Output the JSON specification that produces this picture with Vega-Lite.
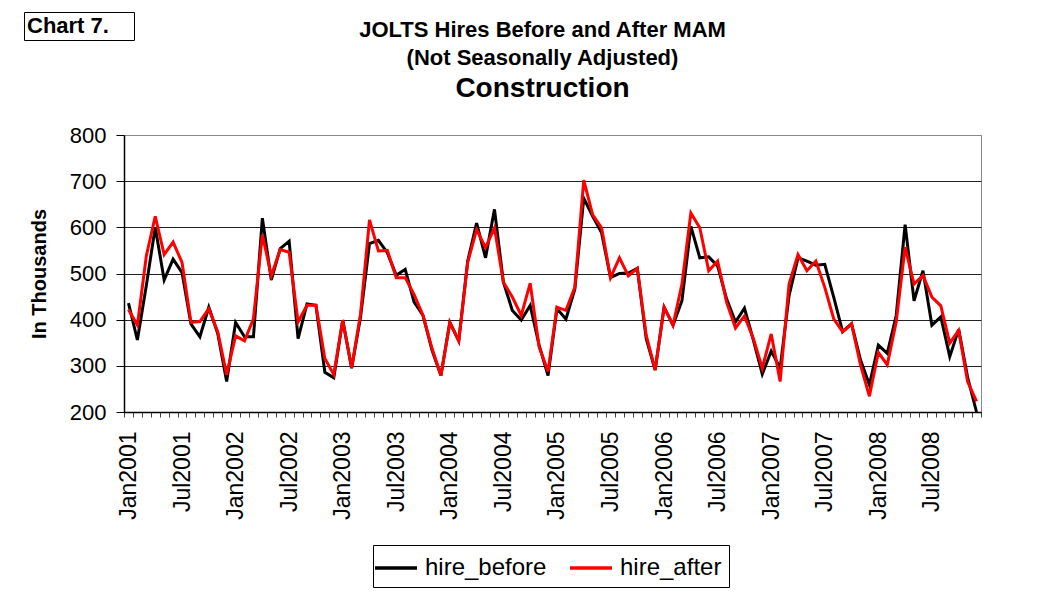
{
  "$schema": "https://vega.github.io/schema/vega-lite/v6.json",
  "width": 857,
  "height": 277,
  "autosize": {"type": "none"},
  "padding": {"left": 124, "top": 135, "right": 60, "bottom": 184},
  "background": "white",
  "config": {"font": "Liberation Sans", "view": {"stroke": "#888888", "strokeWidth": 1}},
  "title": {
    "text": ["JOLTS Hires Before and After MAM", "(Not Seasonally Adjusted)"],
    "subtitle": "Construction",
    "font": "Liberation Sans",
    "subtitleFont": "Liberation Sans",
    "fontSize": 22,
    "fontWeight": "bold",
    "lineHeight": 28,
    "color": "black",
    "subtitleFontSize": 28,
    "subtitleFontWeight": "bold",
    "subtitleColor": "black",
    "subtitlePadding": 5,
    "anchor": "middle",
    "offset": -92,
    "dx": -10
  },
  "datasets": {
    "hires": [
      {"month": "Jan2001", "before": 436, "after": 422},
      {"month": "Feb2001", "before": 356, "after": 388},
      {"month": "Mar2001", "before": 474, "after": 538},
      {"month": "Apr2001", "before": 600, "after": 624},
      {"month": "May2001", "before": 486, "after": 541},
      {"month": "Jun2001", "before": 531, "after": 568},
      {"month": "Jul2001", "before": 502, "after": 524},
      {"month": "Aug2001", "before": 391, "after": 394},
      {"month": "Sep2001", "before": 363, "after": 396},
      {"month": "Oct2001", "before": 427, "after": 424},
      {"month": "Nov2001", "before": 370, "after": 374},
      {"month": "Dec2001", "before": 266, "after": 281},
      {"month": "Jan2002", "before": 394, "after": 365},
      {"month": "Feb2002", "before": 363, "after": 354},
      {"month": "Mar2002", "before": 363, "after": 402},
      {"month": "Apr2002", "before": 620, "after": 584},
      {"month": "May2002", "before": 486, "after": 495},
      {"month": "Jun2002", "before": 554, "after": 552},
      {"month": "Jul2002", "before": 570, "after": 546},
      {"month": "Aug2002", "before": 359, "after": 395},
      {"month": "Sep2002", "before": 434, "after": 431},
      {"month": "Oct2002", "before": 431, "after": 431},
      {"month": "Nov2002", "before": 286, "after": 316},
      {"month": "Dec2002", "before": 274, "after": 281},
      {"month": "Jan2003", "before": 399, "after": 399},
      {"month": "Feb2003", "before": 295, "after": 296},
      {"month": "Mar2003", "before": 406, "after": 413},
      {"month": "Apr2003", "before": 565, "after": 616},
      {"month": "May2003", "before": 572, "after": 549},
      {"month": "Jun2003", "before": 545, "after": 550},
      {"month": "Jul2003", "before": 496, "after": 491},
      {"month": "Aug2003", "before": 509, "after": 491},
      {"month": "Sep2003", "before": 438, "after": 454},
      {"month": "Oct2003", "before": 409, "after": 409},
      {"month": "Nov2003", "before": 334, "after": 338},
      {"month": "Dec2003", "before": 279, "after": 279},
      {"month": "Jan2004", "before": 394, "after": 394},
      {"month": "Feb2004", "before": 354, "after": 354},
      {"month": "Mar2004", "before": 527, "after": 524},
      {"month": "Apr2004", "before": 609, "after": 595},
      {"month": "May2004", "before": 534, "after": 556},
      {"month": "Jun2004", "before": 639, "after": 599},
      {"month": "Jul2004", "before": 481, "after": 481},
      {"month": "Aug2004", "before": 420, "after": 449},
      {"month": "Sep2004", "before": 399, "after": 409},
      {"month": "Oct2004", "before": 431, "after": 479},
      {"month": "Nov2004", "before": 345, "after": 341},
      {"month": "Dec2004", "before": 279, "after": 288},
      {"month": "Jan2005", "before": 424, "after": 427},
      {"month": "Feb2005", "before": 401, "after": 420},
      {"month": "Mar2005", "before": 466, "after": 470},
      {"month": "Apr2005", "before": 663, "after": 702},
      {"month": "May2005", "before": 624, "after": 627},
      {"month": "Jun2005", "before": 588, "after": 599},
      {"month": "Jul2005", "before": 491, "after": 491},
      {"month": "Aug2005", "before": 500, "after": 534},
      {"month": "Sep2005", "before": 501, "after": 495},
      {"month": "Oct2005", "before": 511, "after": 511},
      {"month": "Nov2005", "before": 359, "after": 366},
      {"month": "Dec2005", "before": 291, "after": 291},
      {"month": "Jan2006", "before": 427, "after": 427},
      {"month": "Feb2006", "before": 388, "after": 388},
      {"month": "Mar2006", "before": 441, "after": 477},
      {"month": "Apr2006", "before": 602, "after": 631},
      {"month": "May2006", "before": 534, "after": 599},
      {"month": "Jun2006", "before": 536, "after": 506},
      {"month": "Jul2006", "before": 516, "after": 527},
      {"month": "Aug2006", "before": 445, "after": 438},
      {"month": "Sep2006", "before": 395, "after": 382},
      {"month": "Oct2006", "before": 425, "after": 408},
      {"month": "Nov2006", "before": 356, "after": 359},
      {"month": "Dec2006", "before": 282, "after": 295},
      {"month": "Jan2007", "before": 332, "after": 369},
      {"month": "Feb2007", "before": 295, "after": 266},
      {"month": "Mar2007", "before": 452, "after": 477},
      {"month": "Apr2007", "before": 534, "after": 541},
      {"month": "May2007", "before": 527, "after": 506},
      {"month": "Jun2007", "before": 518, "after": 527},
      {"month": "Jul2007", "before": 520, "after": 470},
      {"month": "Aug2007", "before": 449, "after": 402},
      {"month": "Sep2007", "before": 374, "after": 374},
      {"month": "Oct2007", "before": 391, "after": 391},
      {"month": "Nov2007", "before": 313, "after": 302},
      {"month": "Dec2007", "before": 259, "after": 234},
      {"month": "Jan2008", "before": 345, "after": 329},
      {"month": "Feb2008", "before": 327, "after": 302},
      {"month": "Mar2008", "before": 409, "after": 395},
      {"month": "Apr2008", "before": 606, "after": 557},
      {"month": "May2008", "before": 441, "after": 477},
      {"month": "Jun2008", "before": 506, "after": 496},
      {"month": "Jul2008", "before": 388, "after": 449},
      {"month": "Aug2008", "before": 406, "after": 430},
      {"month": "Sep2008", "before": 320, "after": 349},
      {"month": "Oct2008", "before": 379, "after": 377},
      {"month": "Nov2008", "before": 275, "after": 266},
      {"month": "Dec2008", "before": 200, "after": 223}
    ],
    "tag": [{"tag": "Chart 7."}]
  },
  "layer": [
    {
      "data": {"name": "hires"},
      "mark": {"type": "line", "strokeWidth": 3, "strokeJoin": "miter"},
      "encoding": {
        "x": {
          "field": "month", "type": "ordinal", "sort": null, "bandPosition": 0.5,
          "scale": {"type": "band", "paddingInner": 0, "paddingOuter": 0},
          "axis": {
            "title": null, "labelAngle": 270, "labelFontSize": 23, "labelPadding": 14,
            "labelExpr": "test(/^(Jan|Jul)/, datum.value) ? datum.value : ''",
            "labelOverlap": false, "labelColor": "black", "tickBand": "extent",
            "tickSize": 5, "tickColor": "#444444", "domainColor": "black", "domainWidth": 1.5, "grid": false
          }
        },
        "y": {
          "field": "before", "type": "quantitative",
          "scale": {"domain": [200, 800], "nice": false, "zero": false},
          "axis": {
            "title": "In Thousands", "titleFontSize": 20, "titleFontWeight": "bold", "titleColor": "black", "titlePadding": 20,
            "values": [200, 300, 400, 500, 600, 700, 800], "labelFontSize": 22, "labelColor": "black", "labelPadding": 10,
            "tickSize": 8, "tickColor": "black", "domainColor": "black", "domainWidth": 1.5,
            "grid": true, "gridWidth": 1,
            "gridColor": {"condition": {"test": "datum.value == 800", "value": "#888888"}, "value": "#222222"}
          }
        },
        "color": {
          "datum": "hire_before", "type": "nominal",
          "scale": {"domain": ["hire_before", "hire_after"], "range": ["black", "#ff0000"]},
          "legend": {
            "orient": "none", "legendX": 249, "legendY": 410, "direction": "horizontal", "columns": 2,
            "title": null, "strokeColor": "black", "fillColor": "white", "padding": 7,
            "labelFontSize": 24, "labelColor": "black", "symbolType": "M-1.5,0H1.5",
            "symbolSize": 784, "symbolStrokeWidth": 3.5, "labelOffset": 13, "columnPadding": 16
          }
        }
      }
    },
    {
      "data": {"name": "hires"},
      "mark": {"type": "line", "strokeWidth": 3, "strokeJoin": "miter"},
      "encoding": {
        "x": {"field": "month", "type": "ordinal", "sort": null, "bandPosition": 0.5},
        "y": {"field": "after", "type": "quantitative", "title": "In Thousands"},
        "color": {"datum": "hire_after", "type": "nominal"}
      }
    },
    {
      "data": {"name": "tag"},
      "mark": {"type": "point", "opacity": 0, "size": 1},
      "encoding": {
        "shape": {
          "field": "tag", "type": "nominal",
          "legend": {
            "orient": "none", "legendX": -100, "legendY": -123,
            "title": "Chart 7.", "titleOrient": "left", "titleFontSize": 22, "titleFontWeight": "bold",
            "titleColor": "black", "titlePadding": 0, "titleBaseline": "middle", "titleLimit": 200,
            "strokeColor": "black", "fillColor": "white", "padding": 3,
            "labelExpr": "''", "labelFontSize": 1,
            "symbolSize": 400, "symbolOpacity": 0, "labelOffset": 0
          }
        }
      }
    }
  ]
}
